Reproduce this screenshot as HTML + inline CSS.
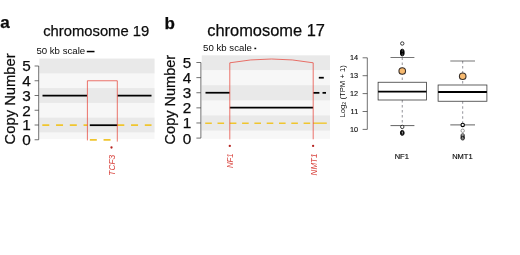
<!DOCTYPE html>
<html><head><meta charset="utf-8">
<style>
html,body{margin:0;padding:0;background:#fff;}
body{width:520px;height:255px;overflow:hidden;}
svg{display:block;font-family:"Liberation Sans",sans-serif;}
</style></head><body>
<svg width="520" height="255" viewBox="0 0 520 255">
<rect width="520" height="255" fill="#fff"/>

<g id="pa">
<text x="0.2" y="27.8" font-size="17" fill="#0a0a0a" font-weight="bold" stroke="#111" stroke-width="0.25">a</text>
<text x="43.2" y="35.6" font-size="14.9" fill="#0a0a0a" textLength="106" lengthAdjust="spacingAndGlyphs" stroke="#111" stroke-width="0.25">chromosome 19</text>
<text x="36.4" y="53.8" font-size="9.3" fill="#0a0a0a" textLength="48.8" lengthAdjust="spacingAndGlyphs">50 kb scale</text>
<rect x="86.8" y="50.8" width="7.7" height="1.5" fill="#000"/>
<rect x="39.4" y="58.62" width="115.10" height="80.32" fill="#f7f7f7"/>
<rect x="39.4" y="58.62" width="115.10" height="14.75" fill="#e9e9e9"/>
<rect x="39.4" y="88.12" width="115.10" height="14.75" fill="#e9e9e9"/>
<rect x="39.4" y="117.62" width="115.10" height="14.75" fill="#e9e9e9"/>
<path d="M38.7 66.00V139.75M34.6 139.75H38.7M34.6 125.00H38.7M34.6 110.25H38.7M34.6 95.50H38.7M34.6 80.75H38.7M34.6 66.00H38.7" stroke="#333" stroke-width="0.7" fill="none"/>
<g font-size="15.3" fill="#0a0a0a" stroke="#111" stroke-width="0.25" text-anchor="end"><text x="30.8" y="145.20">0</text><text x="30.8" y="130.45">1</text><text x="30.8" y="115.70">2</text><text x="30.8" y="100.95">3</text><text x="30.8" y="86.20">4</text><text x="30.8" y="71.45">5</text></g>
<text transform="translate(15.2,144.4) rotate(-90)" font-size="15.1" fill="#0a0a0a" textLength="91" lengthAdjust="spacingAndGlyphs" stroke="#111" stroke-width="0.25">Copy Number</text>
<line x1="42.3" y1="125.20" x2="87.4" y2="125.20" stroke="#f0c52e" stroke-width="1.7" stroke-dasharray="7 6.75"/>
<line x1="117.3" y1="125.20" x2="151.5" y2="125.20" stroke="#f0c52e" stroke-width="1.7" stroke-dasharray="7 6.75"/>
<line x1="89.8" y1="139.8" x2="117.3" y2="139.8" stroke="#f0c52e" stroke-width="1.7" stroke-dasharray="7 6.75"/>
<line x1="42.5" y1="95.60" x2="87" y2="95.60" stroke="#000" stroke-width="1.75"/>
<line x1="117.5" y1="95.60" x2="151.5" y2="95.60" stroke="#000" stroke-width="1.75"/>
<line x1="89.8" y1="125.20" x2="117.3" y2="125.20" stroke="#000" stroke-width="1.75"/>
<path d="M87.4 140.4V80.75H117.3V141.6" stroke="#e63a2e" stroke-width="0.7" fill="none"/>
<circle cx="111.5" cy="147.5" r="1.15" fill="#b5231f"/>
<text transform="translate(115.0,175.7) rotate(-90)" font-size="8.2" fill="#d9453f" textLength="20.8" lengthAdjust="spacingAndGlyphs" font-style="italic">TCF3</text>
</g>
<g id="pb">
<text x="164.4" y="29.2" font-size="17" fill="#0a0a0a" font-weight="bold" stroke="#111" stroke-width="0.25">b</text>
<text x="207.2" y="35.6" font-size="16.6" fill="#0a0a0a" textLength="117.8" lengthAdjust="spacingAndGlyphs" stroke="#111" stroke-width="0.25">chromosome 17</text>
<text x="203.1" y="51.3" font-size="9.3" fill="#0a0a0a" textLength="48.8" lengthAdjust="spacingAndGlyphs">50 kb scale</text>
<rect x="254.4" y="47.7" width="1.8" height="1.5" fill="#000"/>
<rect x="201.8" y="55.40" width="128.20" height="83.40" fill="#f7f7f7"/>
<rect x="201.8" y="55.40" width="128.20" height="14.66" fill="#e9e9e9"/>
<rect x="201.8" y="85.18" width="128.20" height="15.12" fill="#e9e9e9"/>
<rect x="201.8" y="115.42" width="128.20" height="15.12" fill="#e9e9e9"/>
<path d="M200.9 62.50V138.10M196.4 138.10H200.9M196.4 122.98H200.9M196.4 107.86H200.9M196.4 92.74H200.9M196.4 77.62H200.9M196.4 62.50H200.9" stroke="#333" stroke-width="0.7" fill="none"/>
<g font-size="15.3" fill="#0a0a0a" stroke="#111" stroke-width="0.25" text-anchor="end"><text x="191.3" y="143.55">0</text><text x="191.3" y="128.43">1</text><text x="191.3" y="113.31">2</text><text x="191.3" y="98.19">3</text><text x="191.3" y="83.07">4</text><text x="191.3" y="67.95">5</text></g>
<text transform="translate(175.2,144.4) rotate(-90)" font-size="15.1" fill="#0a0a0a" textLength="89.6" lengthAdjust="spacingAndGlyphs" stroke="#111" stroke-width="0.25">Copy Number</text>
<line x1="205.2" y1="123.18" x2="229.8" y2="123.18" stroke="#f0c52e" stroke-width="1.6" stroke-dasharray="6.6 5.7"/>
<line x1="229.8" y1="123.18" x2="313.1" y2="123.18" stroke="#f0c52e" stroke-width="1.6" stroke-dasharray="6.6 5.7"/>
<line x1="313.1" y1="123.18" x2="326.8" y2="123.18" stroke="#f0c52e" stroke-width="1.4"/>
<line x1="205.5" y1="92.74" x2="229.7" y2="92.74" stroke="#000" stroke-width="1.75"/>
<line x1="229.8" y1="107.56" x2="313.1" y2="107.56" stroke="#000" stroke-width="1.75"/>
<line x1="313.3" y1="92.84" x2="319.4" y2="92.84" stroke="#000" stroke-width="1.75"/>
<line x1="322.5" y1="92.84" x2="326" y2="92.84" stroke="#000" stroke-width="1.75"/>
<line x1="318.8" y1="77.72" x2="323.8" y2="77.72" stroke="#000" stroke-width="1.75"/>
<path d="M229.8 139.5V62.8Q271.5 55.2 313.2 62.8V139.3" stroke="#e63a2e" stroke-width="0.7" fill="none"/>
<circle cx="229.8" cy="145.9" r="1.15" fill="#b5231f"/>
<circle cx="313.1" cy="145.9" r="1.15" fill="#b5231f"/>
<text transform="translate(233.3,168.1) rotate(-90)" font-size="8.2" fill="#d9453f" textLength="14.7" lengthAdjust="spacingAndGlyphs" font-style="italic">NF1</text>
<text transform="translate(316.6,175.4) rotate(-90)" font-size="8.2" fill="#d9453f" textLength="21.8" lengthAdjust="spacingAndGlyphs" font-style="italic">NMT1</text>
</g>
<g id="pc">
<path d="M367.3 57.80V129.40M362.6 129.40H367.3M362.6 111.50H367.3M362.6 93.60H367.3M362.6 75.70H367.3M362.6 57.80H367.3" stroke="#333" stroke-width="0.7" fill="none"/>
<g font-size="7.3" fill="#0a0a0a" stroke="#0a0a0a" stroke-width="0.12" text-anchor="end"><text x="358.2" y="132.00">10</text><text x="358.2" y="114.10">11</text><text x="358.2" y="96.20">12</text><text x="358.2" y="78.30">13</text><text x="358.2" y="60.40">14</text></g>
<text transform="translate(344.7,117.5) rotate(-90)" font-size="7.3" fill="#0a0a0a" textLength="52.4" lengthAdjust="spacingAndGlyphs">Log<tspan font-size="5" dy="1.4">2</tspan><tspan dy="-1.4"> (TPM + 1)</tspan></text>
<line x1="402.25" y1="57.5" x2="402.25" y2="82.25" stroke="#4a4a55" stroke-width="0.6" stroke-dasharray="2.5 2.5"/>
<line x1="402.25" y1="100" x2="402.25" y2="125.6" stroke="#4a4a55" stroke-width="0.6" stroke-dasharray="2.5 2.5"/>
<line x1="390.5" y1="57.5" x2="414.4" y2="57.5" stroke="#3a3a3a" stroke-width="0.7"/>
<line x1="390.5" y1="125.6" x2="414.4" y2="125.6" stroke="#3a3a3a" stroke-width="0.8"/>
<rect x="378.1" y="82.25" width="48.30" height="17.75" fill="#fff" stroke="#3a3a3a" stroke-width="0.8"/>
<line x1="378.1" y1="91.7" x2="426.4" y2="91.7" stroke="#000" stroke-width="1.8"/>
<circle cx="402.25" cy="43.5" r="1.7" fill="#fff" stroke="#000" stroke-width="0.75"/>
<circle cx="402.25" cy="50.9" r="1.7" fill="none" stroke="#000" stroke-width="1.0"/>
<circle cx="402.25" cy="51.8" r="1.7" fill="none" stroke="#000" stroke-width="1.0"/>
<circle cx="402.25" cy="52.6" r="1.7" fill="none" stroke="#000" stroke-width="1.0"/>
<circle cx="402.25" cy="53.4" r="1.7" fill="none" stroke="#000" stroke-width="1.0"/>
<circle cx="402.25" cy="54.2" r="1.7" fill="none" stroke="#000" stroke-width="1.0"/>
<circle cx="402.25" cy="126.9" r="1.7" fill="#fff" stroke="#000" stroke-width="0.75"/>
<circle cx="402.25" cy="132.1" r="1.7" fill="none" stroke="#000" stroke-width="0.9"/>
<circle cx="402.25" cy="132.9" r="1.7" fill="none" stroke="#000" stroke-width="0.9"/>
<circle cx="402.25" cy="133.7" r="1.7" fill="none" stroke="#000" stroke-width="0.9"/>
<circle cx="402.25" cy="71" r="3.3" fill="#f7ba70" stroke="#3a302a" stroke-width="1.1"/>
<line x1="462.7" y1="61" x2="462.7" y2="85" stroke="#4a4a55" stroke-width="0.6" stroke-dasharray="2.5 2.5"/>
<line x1="462.7" y1="101.25" x2="462.7" y2="124.9" stroke="#4a4a55" stroke-width="0.6" stroke-dasharray="2.5 2.5"/>
<line x1="450.3" y1="61" x2="475" y2="61" stroke="#3a3a3a" stroke-width="0.7"/>
<line x1="450.3" y1="124.9" x2="475" y2="124.9" stroke="#3a3a3a" stroke-width="0.8"/>
<rect x="438.1" y="85" width="48.80" height="16.25" fill="#fff" stroke="#3a3a3a" stroke-width="0.8"/>
<line x1="438.1" y1="92" x2="486.9" y2="92" stroke="#000" stroke-width="1.8"/>
<circle cx="462.7" cy="124.9" r="1.7" fill="#fff" stroke="#000" stroke-width="1.1"/>
<circle cx="462.7" cy="130.75" r="1.7" fill="#fff" stroke="#444" stroke-width="0.5"/>
<circle cx="462.7" cy="135.3" r="1.7" fill="none" stroke="#111" stroke-width="0.7"/>
<circle cx="462.7" cy="136.6" r="1.7" fill="none" stroke="#111" stroke-width="0.7"/>
<circle cx="462.7" cy="137.8" r="1.7" fill="none" stroke="#111" stroke-width="0.7"/>
<circle cx="462.7" cy="138.4" r="1.7" fill="none" stroke="#111" stroke-width="0.7"/>
<circle cx="462.7" cy="76.25" r="3.3" fill="#f7ba70" stroke="#3a302a" stroke-width="1.1"/>
<g font-size="7.5" fill="#0a0a0a" stroke="#0a0a0a" stroke-width="0.15" text-anchor="middle"><text x="401.75" y="158.9">NF1</text><text x="462.4" y="158.9">NMT1</text></g>
</g>
</svg>
</body></html>
